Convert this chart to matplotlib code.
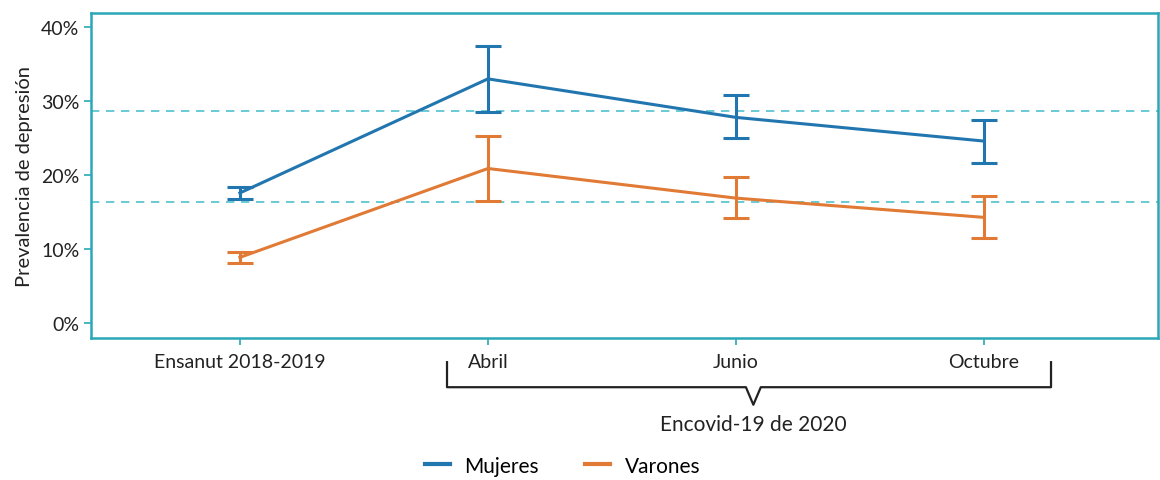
import numpy as np
import matplotlib
matplotlib.use("Agg")
import matplotlib.pyplot as plt
from matplotlib.ticker import PercentFormatter
from matplotlib.transforms import blended_transform_factory

# ---------- data ----------
categories = ["Ensanut 2018-2019", "Abril", "Junio", "Octubre"]
mujeres = [17.6, 33.0, 27.8, 24.6]
mujeres_lo = [16.8, 28.5, 25.0, 21.6]
mujeres_hi = [18.4, 37.4, 30.8, 27.4]
varones = [8.9, 20.9, 16.9, 14.3]
varones_lo = [8.1, 16.5, 14.2, 11.5]
varones_hi = [9.6, 25.3, 19.7, 17.2]
ref_lines = [28.7, 16.4]

plt.rcParams["font.family"] = ["Lato", "DejaVu Sans"]

blue = "#2176b0"
blue_cap = "#6a6aae"
orange = "#e07a35"
teal = "#2aa8b8"
ink = "#222222"

fig, ax = plt.subplots(figsize=(11.6, 4.81), dpi=100)
fig.subplots_adjust(left=0.0785, right=0.998, top=0.971, bottom=0.295)

x = np.arange(len(categories))

for y in ref_lines:
    ax.axhline(y / 100, color="#4fc1cd", lw=1.2, ls=(0, (5, 4)), zorder=1)

for vals, lo, hi, col, capcol, lab in [
    (mujeres, mujeres_lo, mujeres_hi, blue, blue_cap, "Mujeres"),
    (varones, varones_lo, varones_hi, orange, orange, "Varones"),
]:
    v = np.array(vals) / 100
    err = [v - np.array(lo) / 100, np.array(hi) / 100 - v]
    ax.plot(x, v, color=col, lw=2.2, label=lab, zorder=3)
    eb = ax.errorbar(x, v, yerr=err, fmt="none", ecolor=col, elinewidth=2.2,
                     capsize=9.5, capthick=2.2, zorder=3)
    for cap in eb[1]:
        cap.set_color(capcol)

ax.set_xlim(-0.60, 3.70)
ax.set_ylim(-0.02, 0.419)
ax.set_yticks([0, 0.1, 0.2, 0.3, 0.4])
ax.yaxis.set_major_formatter(PercentFormatter(1.0, decimals=0))
ax.set_xticks(x)
ax.set_xticklabels(categories)
ax.tick_params(axis="both", colors=teal, length=5, width=1.2, labelsize=14,
               labelcolor=ink)
ax.tick_params(axis="x", pad=6)
for s in ax.spines.values():
    s.set_color(teal)
    s.set_linewidth(1.8)

ax.set_ylabel("Prevalencia de depresión", fontsize=14.5, color=ink, labelpad=6)

# bracket for Encovid-19 months
tr = blended_transform_factory(ax.transData, ax.transAxes)
bx0, bx1, bxm = 0.835, 3.27, 2.07
ytop, ybot, yv = -0.074, -0.151, -0.205
ax.plot([bx0, bx0, bxm - 0.03, bxm, bxm + 0.03, bx1, bx1],
        [ytop, ybot, ybot, yv, ybot, ybot, ytop],
        color=ink, lw=1.6, transform=tr, clip_on=False)
ax.text(bxm, -0.265, "Encovid-19 de 2020", transform=tr, ha="center", va="center",
        fontsize=15, color=ink)

leg = ax.legend(loc="center", bbox_to_anchor=(0.442, -0.392), ncol=2, frameon=False,
                fontsize=15, handlelength=1.2, columnspacing=2.2, handletextpad=0.7)
for h in leg.legend_handles:
    h.set_linewidth(3)

fig.savefig("out.png", dpi=100)
